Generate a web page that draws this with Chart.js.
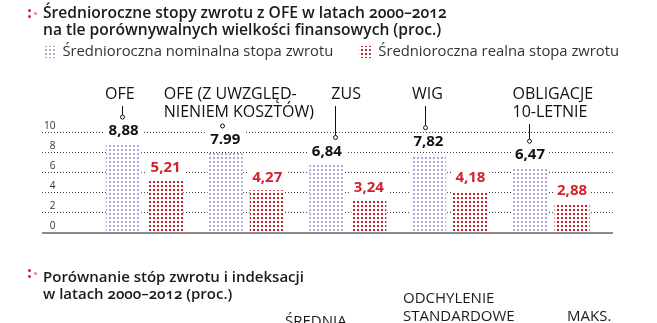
<!DOCTYPE html>
<html lang="pl">
<head>
<meta charset="utf-8">
<script src="https://cdn.jsdelivr.net/npm/chart.js@4/dist/chart.umd.min.js"></script>
<style>
  html, body { margin: 0; padding: 0; background: #fff; }
  body { width: 657px; height: 323px; position: relative; overflow: hidden; font-family: "Open Sans", sans-serif; color: #1b1b1b; }
  #wrap { position: absolute; left: 0; top: 0; width: 657px; height: 323px; }
  .tytul { position: absolute; left: 43px; font-size: 15.6px; font-weight: 600; line-height: 17px; white-space: nowrap; font-feature-settings: "onum"; }
  .kropki { position: absolute; width: 10px; height: 10px; }
  .kropki i { position: absolute; width: 3px; height: 3px; border-radius: 50%; background: #d3212d; }
  .kol { position: absolute; font-size: 15px; line-height: 18px; white-space: nowrap; color: #1b1b1b; }
</style>
</head>
<body>
<div id="wrap"><canvas id="wykres"></canvas></div>

<div class="kropki" style="left:28px; top:9px;"><i style="left:0;top:0"></i><i style="left:0;top:6px"></i><i style="left:6px;top:3px;background:#e8838a"></i></div>
<div class="tytul" style="top:4px;">Średnioroczne stopy zwrotu z OFE w latach 2000–2012<br>na tle porównywalnych wielkości finansowych (proc.)</div>

<div class="kropki" style="left:28px; top:269px;"><i style="left:0;top:0"></i><i style="left:0;top:6px"></i><i style="left:6px;top:3px;background:#e8838a"></i></div>
<div class="tytul" style="top:268px; font-size:15px;">Porównanie stóp zwrotu i indeksacji<br>w latach 2000–2012 (proc.)</div>
<div class="kol" style="left:285px; top:311px;">ŚREDNIA</div>
<div class="kol" style="left:403px; top:288px;">ODCHYLENIE<br>STANDARDOWE</div>
<div class="kol" style="left:567px; top:306px;">MAKS.</div>

<script>
// dane
const kategorie = [['OFE'], ['OFE (Z UWZGLĘD-', 'NIENIEM KOSZTÓW)'], ['ZUS'], ['WIG'], ['OBLIGACJE', '10-LETNIE']];
const nominalna = [8.88, 7.99, 6.84, 7.82, 6.47];
const realna = [5.21, 4.27, 3.24, 4.18, 2.88];
const nominalnaTekst = ['8,88', '7.99', '6,84', '7,82', '6,47'];
const realnaTekst = ['5,21', '4,27', '3,24', '4,18', '2,88'];
const podzialkaY = [0, 2, 4, 6, 8, 10];
const nazwySerii = ['Średnioroczna nominalna stopa zwrotu', 'Średnioroczna realna stopa zwrotu'];

// uklad podpisow kategorii (przesuniecia w px)
const przesuniecieTekstu = [-1, -44, 22, 1, 0];
const przesuniecieLinii = [-2, -3, 8, -3, -1];

const canvas = document.getElementById('wykres');
const ctx = canvas.getContext('2d');

function wzor(kolor) {
  const c = document.createElement('canvas');
  c.width = 4; c.height = 4;
  const g = c.getContext('2d');
  g.fillStyle = '#fff';
  g.fillRect(0, 0, 4, 4);
  g.fillStyle = kolor;
  g.fillRect(1, 1, 2, 2);
  return ctx.createPattern(c, 'repeat');
}

const wzorNominalna = wzor('#a9a7dc');
const wzorRealna = wzor('#c3202b');

const podpisy = {
  id: 'podpisy',
  afterDatasetsDraw(chart) {
    const c = chart.ctx;
    const m0 = chart.getDatasetMeta(0);
    const m1 = chart.getDatasetMeta(1);
    const obszar = chart.chartArea;
    c.save();

    // linia bazowa (wartosc 0 na osi y)
    const y0 = chart.scales.y.getPixelForValue(0);
    c.strokeStyle = '#8a8a8a';
    c.lineWidth = 2;
    c.beginPath();
    c.moveTo(obszar.left, y0);
    c.lineTo(obszar.right, y0);
    c.stroke();

    c.textBaseline = 'middle';

    function wartosc(bar, txt, kolor) {
      c.font = 'bold 15px "Open Sans"';
      c.textAlign = 'center';
      const w = c.measureText(txt).width;
      const y = bar.y - 13;
      c.fillStyle = '#fff';
      c.fillRect(bar.x - w / 2 - 4, y - 8, w + 8, 16);
      c.fillStyle = kolor;
      c.fillText(txt, bar.x, y);
    }

    m0.data.forEach((bar, i) => {
      wartosc(bar, nominalnaTekst[i], '#111');
      wartosc(m1.data[i], realnaTekst[i], '#d3212d');

      const linie = kategorie[i];
      const lewo = bar.x - bar.width / 2 + przesuniecieTekstu[i];
      c.font = '16px "Open Sans"';
      c.textAlign = 'left';
      c.fillStyle = '#111';
      linie.forEach((t, j) => c.fillText(t, lewo, 94 + j * 18));

      const lx = Math.round(bar.x + przesuniecieLinii[i]) + 0.5;
      const gora = 94 + (linie.length - 1) * 18 + 12;
      const kolko = bar.y - 27;
      c.strokeStyle = '#111';
      c.lineWidth = 1;
      c.beginPath();
      c.moveTo(lx, gora);
      c.lineTo(lx, kolko - 2);
      c.stroke();
      c.beginPath();
      c.arc(lx, kolko, 2, 0, Math.PI * 2);
      c.fillStyle = '#fff';
      c.fill();
      c.stroke();
    });
    c.restore();
  }
};

new Chart(ctx, {
  type: 'bar',
  data: {
    datasets: [{
      label: nazwySerii[0],
      data: nominalna.map((v, i) => ({ x: i, y: v })),
      backgroundColor: wzorNominalna,
      borderWidth: 0
    }, {
      label: nazwySerii[1],
      data: realna.map((v, i) => ({ x: i, y: v })),
      backgroundColor: wzorRealna,
      borderWidth: 0
    }]
  },
  options: {
    responsive: true,
    maintainAspectRatio: false,
    animation: false,
    categoryPercentage: 0.827,
    barPercentage: 0.833,
    layout: { padding: { left: 17.5, right: 0, top: 19, bottom: 87 } },
    plugins: {
      legend: {
        position: 'top',
        align: 'start',
        labels: {
          boxWidth: 12,
          boxHeight: 12,
          padding: 25.5,
          color: '#333',
          font: { family: 'Open Sans', size: 14.8 }
        }
      },
      tooltip: { enabled: false }
    },
    scales: {
      x: {
        type: 'linear',
        offset: false,
        min: -1.01,
        max: 4.61,
        afterBuildTicks: s => { s.ticks = kategorie.map((k, i) => ({ value: i })); },
        ticks: { display: false },
        grid: { display: false, drawTicks: false },
        border: { display: false },
        afterFit: s => { s.height = 0; }
      },
      y: {
        min: -0.3,
        max: 16.35,
        afterBuildTicks: s => { s.ticks = podzialkaY.map(v => ({ value: v })); },
        ticks: {
          mirror: true,
          crossAlign: 'far',
          padding: 2,
          labelOffset: -7,
          color: '#333',
          font: { family: 'Open Sans', size: 10 }
        },
        grid: {
          drawTicks: false,
          color: c => c.tick && c.tick.value === 0 ? '#8a8a8a' : '#444',
          lineWidth: c => c.tick && c.tick.value === 0 ? 2 : 1
        },
        border: { display: false, dash: c => c.tick && c.tick.value === 0 ? [] : [1, 2] },
        afterFit: s => { s.width = 24.5; }
      },
      prawa: {
        position: 'right',
        ticks: { display: false },
        grid: { display: false, drawTicks: false },
        border: { display: false },
        afterFit: s => { s.width = 44; }
      }
    }
  },
  plugins: [podpisy]
});
</script>
</body>
</html>
